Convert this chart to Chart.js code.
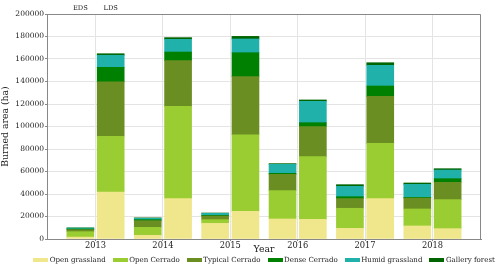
<!DOCTYPE html>
<html><head><meta charset="utf-8">
<script src="https://cdn.jsdelivr.net/npm/chart.js"></script>
<style>html,body{margin:0;padding:0;background:#fff}</style>
</head><body>
<canvas id="c" width="500" height="270"></canvas>
<script>
// ---- data (values per bar, order: 2013 EDS, 2013 LDS, 2014 EDS, 2014 LDS, ...) ----
const years = [2013, 2014, 2015, 2016, 2017, 2018];
const seasons = ['EDS', 'LDS'];
const classNames = ['Open grassland', 'Open Cerrado', 'Typical Cerrado', 'Dense Cerrado', 'Humid grassland', 'Gallery forest'];
const openGrassland  = [1700, 41800, 3300, 35900, 13900, 24600, 17800, 17500, 9500, 35900, 11600, 9200];
const openCerrado    = [4800, 49500, 7100, 82000, 3300, 68100, 25200, 55700, 17800, 49100, 15100, 25800];
const typicalCerrado = [1800, 48300, 5900, 40600, 3200, 51600, 14500, 26700, 8600, 41800, 9700, 15400];
const denseCerrado   = [600, 13000, 900, 7700, 600, 21300, 900, 3500, 1700, 9200, 600, 3200];
const humidGrassland = [800, 10700, 1200, 11300, 1800, 12200, 8000, 19000, 9200, 18400, 11600, 7700];
const galleryForest  = [200, 1400, 400, 1500, 300, 2300, 600, 1200, 1500, 2300, 1200, 1200];
const yTicks = [0, 20000, 40000, 60000, 80000, 100000, 120000, 140000, 160000, 180000, 200000];

// ---- styling ----
const colors = ['#F0E68C', '#9ACD32', '#6B8E23', '#008000', '#20B2AA', '#006400'];
const SEASON_OFFSET = [-0.225, 0.225];
const FONT = "'DejaVu Serif', serif";
const series = [openGrassland, openCerrado, typicalCerrado, denseCerrado, humidGrassland, galleryForest];

function toPoints(vals) {
  return vals.map((v, i) => ({ x: years[Math.floor(i / 2)] + SEASON_OFFSET[i % 2], y: v }));
}

const extras = {
  id: 'extras',
  afterDraw(chart) {
    const ctx = chart.ctx, a = chart.chartArea, xs = chart.scales.x;
    ctx.save();
    // frame top/right
    ctx.strokeStyle = '#888'; ctx.lineWidth = 1;
    ctx.beginPath();
    ctx.moveTo(a.left, Math.round(a.top) + 0.5);
    ctx.lineTo(Math.round(a.right) - 0.5, Math.round(a.top) + 0.5);
    ctx.lineTo(Math.round(a.right) - 0.5, a.bottom);
    ctx.stroke();
    // season labels above first year
    ctx.fillStyle = '#222';
    ctx.font = '6.7px ' + FONT;
    ctx.textAlign = 'center'; ctx.textBaseline = 'middle';
    seasons.forEach((s, k) => {
      ctx.fillText(s, xs.getPixelForValue(years[0] + SEASON_OFFSET[k]), a.top - 6);
    });
    // legend
    ctx.font = '7.05px ' + FONT;
    ctx.textAlign = 'left';
    const boxW = 15, boxH = 4, gapT = 1.5, gapI = 7, yc = 260;
    const widths = classNames.map(n => boxW + gapT + ctx.measureText(n).width);
    const total = widths.reduce((s, w) => s + w, 0) + gapI * (classNames.length - 1);
    let x = (a.left + a.right) / 2 - total / 2;
    classNames.forEach((n, i) => {
      ctx.fillStyle = colors[i];
      ctx.fillRect(Math.round(x), yc - boxH / 2, boxW, boxH);
      ctx.fillStyle = '#222';
      ctx.fillText(n, x + boxW + gapT, yc);
      x += widths[i] + gapI;
    });
    ctx.restore();
  }
};

new Chart(document.getElementById('c'), {
  type: 'bar',
  data: {
    datasets: classNames.map((n, i) => ({
      label: n,
      data: toPoints(series[i]),
      backgroundColor: colors[i],
      borderWidth: 0,
      barThickness: 27
    }))
  },
  options: {
    responsive: false,
    animation: false,
    devicePixelRatio: 1,
    layout: { padding: { left: 0, right: 19, top: 14, bottom: 15 } },
    plugins: { legend: { display: false }, tooltip: { enabled: false } },
    scales: {
      x: {
        type: 'linear', min: 2012.28, max: 2018.72, stacked: true, offset: false,
        afterBuildTicks: s => { s.ticks = years.map(v => ({ value: v })); },
        afterFit: s => { s.height = 16; },
        grid: { color: '#e4e4e4', lineWidth: 1, tickLength: 2, tickColor: '#888', offset: false },
        border: { color: '#888', width: 1 },
        ticks: { font: { family: FONT, size: 8.3 }, color: '#222', padding: 0, maxRotation: 0, autoSkip: false, callback: v => String(v) },
        title: { display: true, text: 'Year', font: { family: FONT, size: 9.3 }, color: '#222', padding: { top: 0, bottom: 0 } }
      },
      y: {
        stacked: true, min: 0, max: 200000,
        afterBuildTicks: s => { s.ticks = yTicks.map(v => ({ value: v })); },
        afterFit: s => { s.width = 47; },
        grid: { color: '#e4e4e4', lineWidth: 1, tickLength: 2, tickColor: '#888' },
        border: { color: '#888', width: 1 },
        ticks: { font: { family: FONT, size: 7.5 }, color: '#222', padding: 1, callback: v => String(v) },
        title: { display: true, text: 'Burned area (ha)', font: { family: FONT, size: 9.3 }, color: '#222', padding: { top: 0, bottom: 0 } }
      }
    }
  },
  plugins: [extras]
});
</script>
</body></html>
